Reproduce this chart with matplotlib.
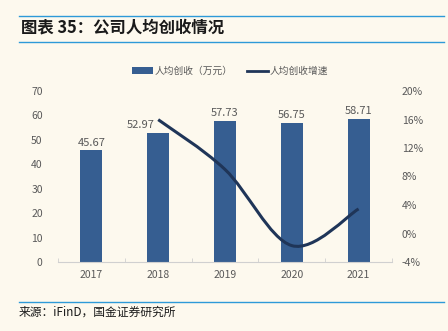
import matplotlib
matplotlib.use("Agg")
import matplotlib.pyplot as plt
import numpy as np
from matplotlib.path import Path
from matplotlib.patches import PathPatch
from matplotlib.lines import Line2D
from matplotlib.patches import Patch
from matplotlib.ticker import FuncFormatter

plt.rcParams['font.family'] = ['Noto Sans CJK SC', 'DejaVu Sans']

years = ['2017', '2018', '2019', '2020', '2021']
revenue = [45.67, 52.97, 57.73, 56.75, 58.71]
growth = [None, 15.98, 8.99, -1.70, 3.45]

bg = '#FDF9EE'
bar_color = '#365E91'
line_color = '#1F3558'
text_color = '#595959'
rule_color = '#2E9AD8'

fig = plt.figure(figsize=(4.48, 3.31), dpi=100, facecolor=bg)

# header / footer rules
for y in (1 - 15.5 / 331, 1 - 41.5 / 331, 1 - 302 / 331):
    fig.add_artist(Line2D([19 / 448, 444 / 448], [y, y], color=rule_color, lw=1.0))
fig.text(21 / 448, 1 - 27.5 / 331, '图表 35：公司人均创收情况', fontsize=11.8,
         fontweight='bold', style='italic', va='center', ha='left', color='#1a1a1a')
fig.text(19 / 448, 1 - 312 / 331, '来源：iFinD，国金证券研究所', fontsize=8.5,
         va='center', ha='left', color='#1a1a1a')

ax = fig.add_axes([58 / 448, 1 - 262 / 331, 334 / 448, 171 / 331])
ax.set_facecolor(bg)
x = np.arange(len(years))
ax.bar(x, revenue, width=0.33, color=bar_color, zorder=2)
for xi, v in zip(x, revenue):
    # 2018 label sits left of the bar so the line does not cover it
    dx = -0.27 if xi == 1 else 0
    ax.text(xi + dx, v + 1.2, f'{v:.2f}', ha='center', va='bottom', fontsize=8,
            color=text_color)

ax.set_xlim(-0.5, len(years) - 0.5)
ax.set_ylim(0, 70)
ax.set_yticks(range(0, 71, 10))
ax.set_xticks(x)
ax.set_xticklabels(years)
ax.set_xticks(np.arange(-0.5, len(years), 1), minor=True)
ax.tick_params(axis='x', which='major', length=0, pad=6, labelsize=7.5, colors=text_color)
ax.tick_params(axis='x', which='minor', length=3, direction='in', color='#D0D0D0')
ax.tick_params(axis='y', length=0, labelsize=7.5, colors=text_color, pad=11)
for s in ('top', 'right', 'left'):
    ax.spines[s].set_visible(False)
ax.spines['bottom'].set_color('#D0D0D0')

ax2 = ax.twinx()
ax2.set_ylim(-4, 20)
ax2.set_yticks(range(-4, 21, 4))
ax2.yaxis.set_major_formatter(FuncFormatter(lambda v, p: f'{int(v)}%'))
ax2.tick_params(axis='y', length=0, labelsize=7.5, colors=text_color, pad=7)
for s in ax2.spines.values():
    s.set_visible(False)

# smooth growth line (Catmull-Rom drawn as Bezier path)
pts = [(xi, g) for xi, g in zip(x, growth) if g is not None]
P = np.array(pts, dtype=float)
verts = [tuple(P[0])]
codes = [Path.MOVETO]
for i in range(len(P) - 1):
    p0 = P[i - 1] if i > 0 else P[i]
    p1, p2 = P[i], P[i + 1]
    p3 = P[i + 2] if i + 2 < len(P) else P[i + 1]
    c1 = p1 + (p2 - p0) / 6
    c2 = p2 - (p3 - p1) / 6
    verts += [tuple(c1), tuple(c2), tuple(p2)]
    codes += [Path.CURVE4] * 3
ax2.add_patch(PathPatch(Path(verts, codes), facecolor='none', edgecolor=line_color,
                        lw=2.2, zorder=3))

handles = [Patch(facecolor=bar_color, label='人均创收（万元）'),
           Line2D([], [], color=line_color, lw=2, label='人均创收增速')]
fig.legend(handles=handles, loc='center', bbox_to_anchor=(230 / 448, 1 - 71 / 331), ncol=2,
           frameon=False, fontsize=7, handlelength=2.2, handleheight=0.7,
           columnspacing=1.4, handletextpad=0.2, labelcolor=text_color)

fig.savefig('out.png', dpi=100, facecolor=bg)
